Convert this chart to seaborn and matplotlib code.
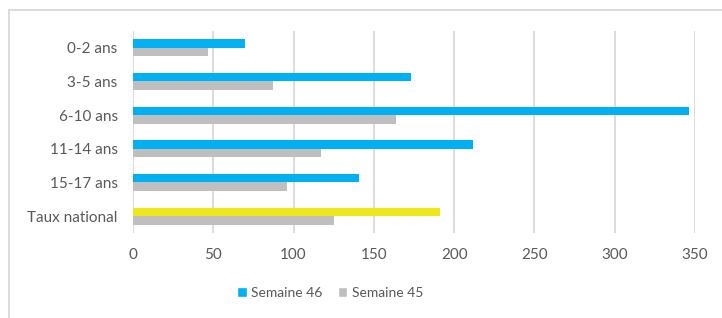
import pandas as pd
import matplotlib
matplotlib.use("Agg")
import matplotlib.pyplot as plt
from matplotlib.patches import Patch
from matplotlib.lines import Line2D
import seaborn as sns

# data
categories = ["0-2 ans", "3-5 ans", "6-10 ans", "11-14 ans", "15-17 ans", "Taux national"]
semaine_46 = [70, 173, 346, 212, 141, 191]
semaine_45 = [47, 87, 164, 117, 96, 125]
series = ["Semaine 46", "Semaine 45"]

blue = "#00B0F0"
grey = "#BFBFBF"
yellow = "#EEE81A"
text_col = "#595959"

df = pd.DataFrame({
    "categorie": categories * 2,
    "valeur": semaine_46 + semaine_45,
    "serie": [series[0]] * len(categories) + [series[1]] * len(categories),
})

sns.set_theme(style="white")
plt.rcParams["font.family"] = ["Lato", "DejaVu Sans"]

fig = plt.figure(figsize=(7.22, 3.18), dpi=100)
ax = fig.add_axes([133 / 722, 1 - 233 / 318, 562 / 722, 202 / 318])

sns.barplot(data=df, x="valeur", y="categorie", hue="serie", orient="h",
            palette=[blue, grey], width=0.5, ax=ax, legend=False,
            saturation=1, edgecolor="none")

# the national rate bar of week 46 is yellow
ax.containers[0][len(categories) - 1].set_facecolor(yellow)

ax.set_xlim(0, 350)
ax.set_xticks(range(0, 351, 50))
ax.grid(axis="x", color="#D9D9D9", linewidth=1.3)
ax.set_axisbelow(True)
for s in ax.spines.values():
    s.set_visible(False)
ax.set_xlabel("")
ax.set_ylabel("")
ax.tick_params(axis="both", length=0, labelsize=11, labelcolor=text_col)
ax.tick_params(axis="y", pad=11)
ax.tick_params(axis="x", pad=11)

# outer chart border (top and left visible)
fig.add_artist(Line2D([9 / 722, 9 / 722], [0, 1 - 10 / 318], color="#D9D9D9", lw=1.3))
fig.add_artist(Line2D([9 / 722, 1], [1 - 10 / 318, 1 - 10 / 318], color="#D9D9D9", lw=1.3))

handles = [Patch(facecolor=blue, label=series[0]), Patch(facecolor=grey, label=series[1])]
fig.legend(handles=handles, loc="center", bbox_to_anchor=(330 / 722, 1 - 293 / 318),
           ncol=2, frameon=False, fontsize=10, labelcolor=text_col,
           handlelength=0.7, handleheight=0.7, handletextpad=0.3, columnspacing=1.1)

fig.savefig("out.png", dpi=100)
